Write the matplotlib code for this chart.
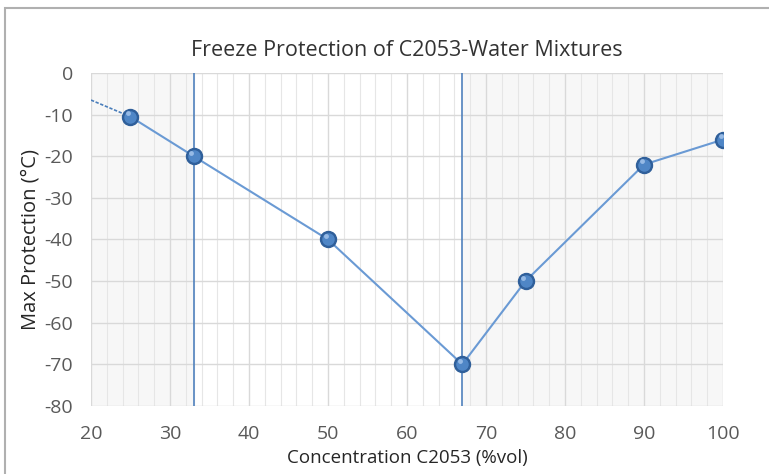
import matplotlib.pyplot as plt
from matplotlib.patches import Rectangle

conc = [25, 33, 50, 67, 75, 90, 100]
protection = [-10.5, -20, -40, -70, -50, -22, -16]
trend_x = [20, 25]
trend_y = [-6.5, -10.5]
vlines = [33, 67]

plt.rcParams['font.family'] = ['Open Sans', 'DejaVu Sans']
plt.rcParams['axes.unicode_minus'] = False

fig = plt.figure(figsize=(7.69, 4.74), dpi=100)
ax = fig.add_axes([0.1183, 0.1435, 0.8219, 0.7025])

# outer chart border
fig.patches.append(Rectangle((0.006, -0.01), 1.0, 0.993, transform=fig.transFigure,
                             fill=False, edgecolor='#b0b0b0', lw=1.5))

ax.axvspan(20, vlines[0], color='#f7f7f7', zorder=0)
ax.axvspan(vlines[1], 100, color='#f7f7f7', zorder=0)

ax.set_xlim(20, 100)
ax.set_ylim(-80, 0)
ax.set_xticks(range(20, 101, 10))
ax.set_yticks(range(-80, 1, 10))
ax.set_xticks(range(20, 101, 2), minor=True)
ax.grid(True, which='major', color='#d9d9d9', lw=1.0, zorder=1)
ax.grid(True, which='minor', axis='x', color='#e6e6e6', lw=0.8, zorder=1)
ax.tick_params(which='both', length=0, labelsize=14, labelcolor='#595959')
ax.tick_params(axis='x', pad=14)
ax.tick_params(axis='y', pad=13)
for s in ax.spines.values():
    s.set_visible(False)

for v in vlines:
    ax.axvline(v, color='#4f81bd', lw=1.2, zorder=2)

ax.plot(trend_x, trend_y, color='#4a7ebb', lw=1.2, dashes=(2, 1), zorder=3)
ax.plot(conc, protection, '-', color='#6a9ad4', lw=1.5, zorder=3)
# sphere-like markers
ax.plot(conc, protection, 'o', ms=11.5, mfc='#2f5f9a', mec='#2f5f9a', zorder=4)
ax.plot(conc, protection, 'o', ms=9, mfc='#4f86c6', mec='none', zorder=5)
ax.plot([c - 0.3 for c in conc], [p + 0.8 for p in protection], 'o', ms=3.5,
        mfc='#a9c8ee', mec='none', alpha=0.8, zorder=6)

ax.set_title('Freeze Protection of C2053-Water Mixtures', fontsize=15.5, color='#333333', pad=12)
ax.set_xlabel('Concentration C2053 (%vol)', fontsize=13.5, color='#262626', labelpad=4)
ax.set_ylabel('Max Protection (°C)', fontsize=14.5, color='#262626', labelpad=3)

fig.savefig('out.png', dpi=100)
